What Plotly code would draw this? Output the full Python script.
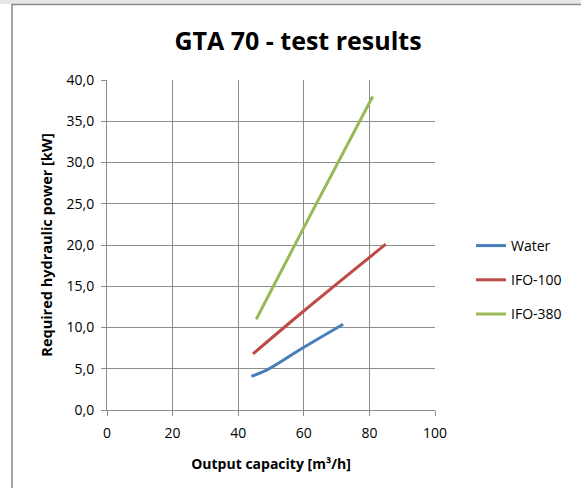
import plotly.graph_objects as go

water_x = [44, 48.5, 60, 72]
water_y = [4.1, 4.8, 7.6, 10.4]
ifo100_x = [44.5, 60, 85]
ifo100_y = [6.8, 12.0, 20.1]
ifo380_x = [45.5, 60, 81]
ifo380_y = [11.0, 22.1, 38.0]

series = [
    ("Water", water_x, water_y, "#4a7ebb"),
    ("IFO-100", ifo100_x, ifo100_y, "#be4b48"),
    ("IFO-380", ifo380_x, ifo380_y, "#98b954"),
]

fig = go.Figure()
for name, xs, ys, col in series:
    fig.add_trace(go.Scatter(x=xs, y=ys, name=name, mode="lines",
                             line=dict(color=col, width=3, shape="spline"),
                             legendgroup=name))

W, H = 581, 488
L, R, T, B = 107, 146, 80, 78
pw, ph = W - L - R, H - T - B

def px(x):
    return (x - L) / pw

def py(y):
    return (H - B - y) / ph

grid = "#8c8c8c"
fig.update_layout(
    width=W, height=H,
    margin=dict(l=L, r=R, t=T, b=B),
    paper_bgcolor="white", plot_bgcolor="white",
    separators=",.",
    font=dict(family="Open Sans, Liberation Sans, sans-serif", size=13, color="#000"),
    title=dict(text="<b>GTA 70 - test results</b>", x=298 / W, xanchor="center",
               y=1 - 41 / H, yanchor="middle", font=dict(size=25)),
    xaxis=dict(range=[0, 100], dtick=20, showgrid=True, gridcolor=grid, gridwidth=1,
               showline=True, linecolor=grid, ticks="outside", ticklen=5, tickcolor=grid,
               zeroline=False, tickfont=dict(size=14), ticklabelstandoff=5,
               title=dict(text="<b>Output capacity [m³/h]</b>", font=dict(size=14), standoff=18)),
    yaxis=dict(range=[0, 40], dtick=5, tickformat=".1f", showgrid=True, gridcolor=grid,
               gridwidth=1, showline=True, linecolor=grid, ticks="outside", ticklen=5,
               tickcolor=grid, zeroline=False, tickfont=dict(size=14), ticklabelstandoff=4,
               title=dict(text="<b>Required hydraulic power [kW]</b>", font=dict(size=14.5), standoff=10)),
    legend=dict(x=px(471), xanchor="left", y=py(230), yanchor="top",
                tracegroupgap=13, font=dict(size=14), bgcolor="rgba(0,0,0,0)"),
    showlegend=True,
    shapes=[
        dict(type="rect", xref="paper", yref="paper", x0=px(0), x1=px(W + 20),
             y0=py(0), y1=py(4), fillcolor="#e6e6e6", line=dict(width=0), layer="below"),
        dict(type="rect", xref="paper", yref="paper", x0=px(12), x1=px(W + 20),
             y0=py(H + 20), y1=py(4.5), line=dict(color="#8a8a8a", width=1.5),
             fillcolor="rgba(0,0,0,0)"),
    ],
)

fig.write_html("out.html", config={"displayModeBar": False},
               post_script="document.body.style.margin='0';")
